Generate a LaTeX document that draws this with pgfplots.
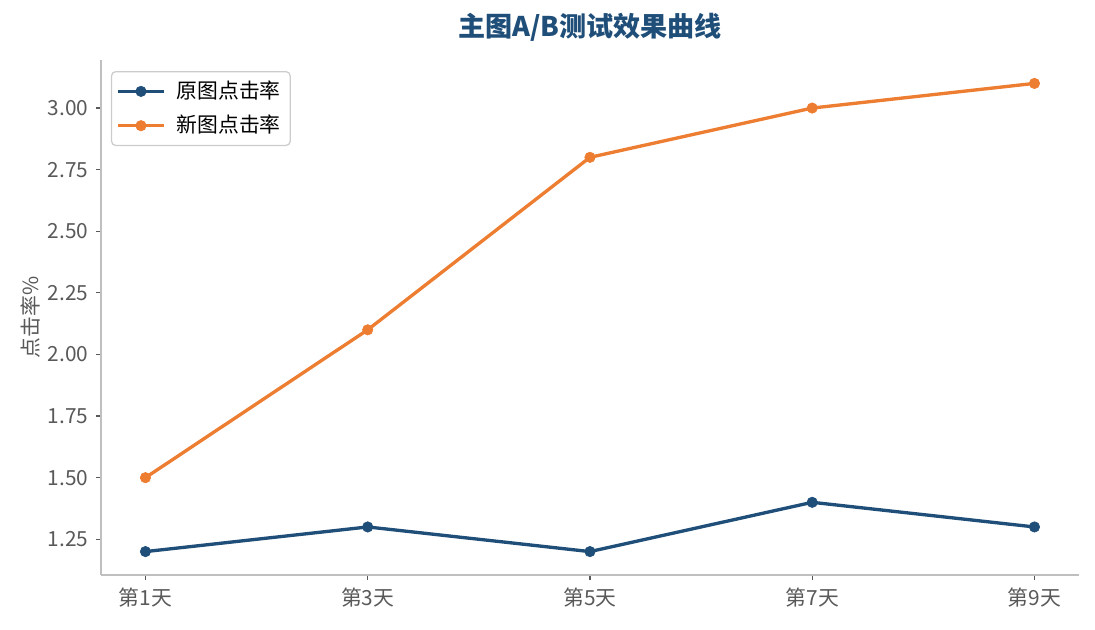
\documentclass[border=0pt]{standalone}
\usepackage{fontspec}
\setmainfont{Noto Sans CJK SC}
\usepackage{pgfplots}
\pgfplotsset{compat=1.18}

\definecolor{cblue}{HTML}{1F4E79}
\definecolor{corange}{HTML}{ED7D31}
\definecolor{spine}{HTML}{BFBFBF}
\definecolor{lbl}{HTML}{595959}

\begin{document}
\begin{tikzpicture}[x=0.48pt,y=0.48pt]
% page = 1095 x 629 px, axis origin at (101,575) px
\useasboundingbox (-101,-54) rectangle (994,575);
\begin{axis}[
  at={(0,0)}, anchor=origin,
  scale only axis, width=469.4pt, height=247.2pt,
  xmin=0.6, xmax=9.4, ymin=1.105, ymax=3.195,
  axis lines*=left,
  axis line style={draw=spine, line width=0.75pt, -},
  xtick={1,3,5,7,9},
  xticklabels={第1天,第3天,第5天,第7天,第9天},
  ytick={1.25,1.5,...,3.0},
  tick align=outside,
  major tick length=2.5pt,
  tick style={draw=lbl, line width=0.6pt},
  ticklabel style={font=\fontsize{10}{12}\selectfont, text=lbl},
  /pgf/number format/assume math mode=true,
  y tick label style={/pgf/number format/fixed,
    /pgf/number format/fixed zerofill,
    /pgf/number format/precision=2},
  ylabel={点击率\%},
  ylabel shift=-3pt,
  ylabel style={font=\fontsize{10}{12}\selectfont, text=lbl},
  title={\bfseries 主图A/B测试效果曲线},
  title style={font=\fontsize{13}{15}\selectfont, text=cblue, yshift=-0.5pt},
  legend style={at={(0.0102,0.9786)}, anchor=north west,
    draw=spine!80, rounded corners=2pt, line width=0.6pt,
    font=\fontsize{10}{12}\selectfont, inner sep=2.5pt,
    row sep=2.5pt,
    /tikz/every odd column/.append style={column sep=3.5pt}},
  legend cell align=left,
  legend image code/.code={
    \draw[mark repeat=2,mark phase=2]
      plot coordinates {(0cm,0cm) (0.38cm,0cm) (0.76cm,0cm)};},
  clip=false,
]
\addplot[cblue, line width=1.6pt, mark=*, mark size=2.5pt,
  mark options={solid, line width=0.3pt}] coordinates {
  (1,1.2) (3,1.3) (5,1.2) (7,1.4) (9,1.3)};
\addlegendentry{原图点击率}
\addplot[corange, line width=1.6pt, mark=*, mark size=2.5pt,
  mark options={solid, line width=0.3pt}] coordinates {
  (1,1.5) (3,2.1) (5,2.8) (7,3.0) (9,3.1)};
\addlegendentry{新图点击率}
\end{axis}
\end{tikzpicture}
\end{document}
